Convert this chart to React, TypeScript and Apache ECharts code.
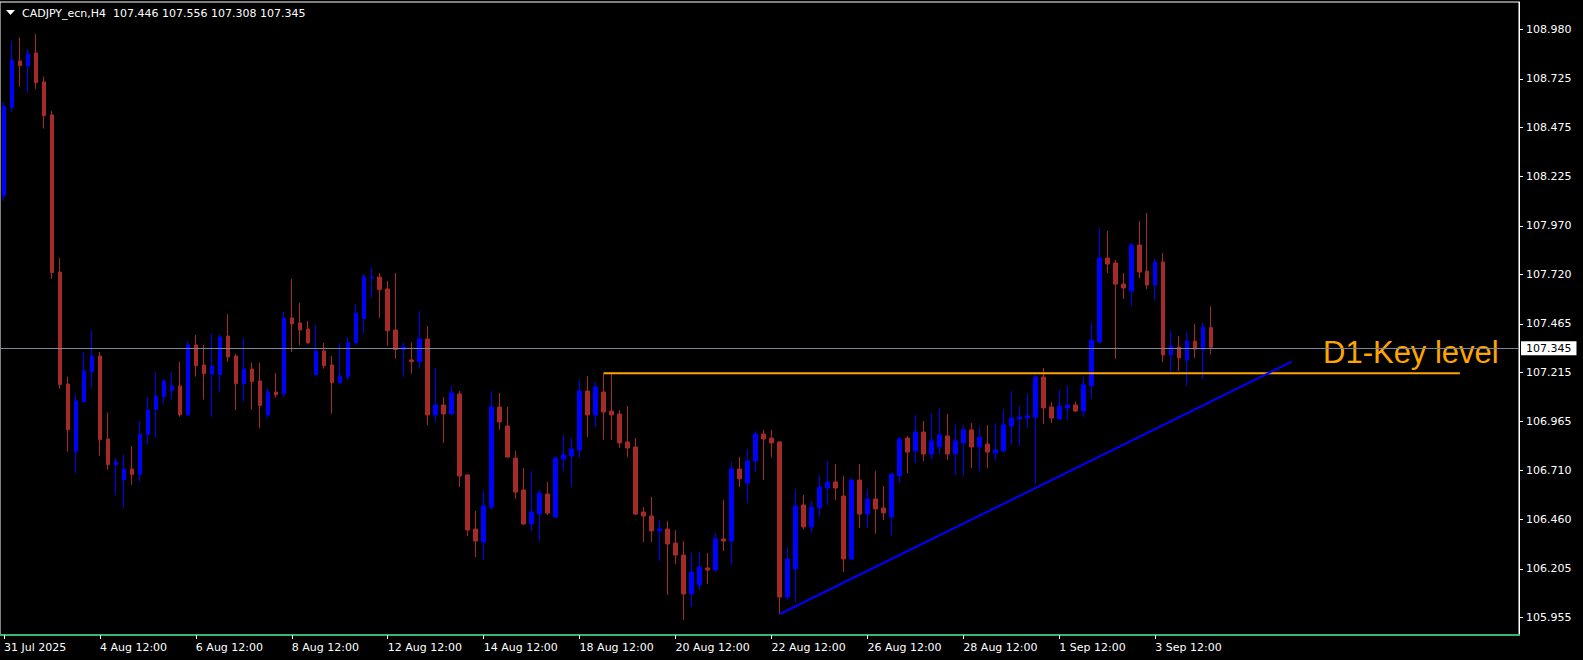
import React, { useEffect, useRef } from "react";
import * as echarts from "echarts";

const TITLE_TEXT = "CADJPY_ecn,H4  107.446 107.556 107.308 107.345";
const KEY_LEVEL_TEXT = "D1-Key level";

const opens = [
  108.125, 108.578, 108.818, 108.792, 108.859, 108.710, 108.540, 107.732, 107.156, 106.808,
  107.065, 107.219, 107.300, 106.873, 106.741, 106.664, 106.719, 106.690, 106.897, 107.024,
  107.091, 107.124, 107.146, 106.998, 107.357, 107.254, 107.207, 107.204, 107.403, 107.300,
  107.158, 107.233, 107.172, 106.997, 107.115, 107.106, 107.496, 107.470, 107.439, 107.204,
  107.326, 107.254, 107.163, 107.194, 107.369, 107.492, 107.701, 107.706, 107.645, 107.434,
  107.333, 107.280, 107.271, 107.388, 106.997, 107.048, 107.002, 107.105, 106.688, 106.410,
  106.343, 106.523, 107.038, 106.940, 106.775, 106.611, 106.436, 106.487, 106.590, 106.472,
  106.770, 106.786, 106.817, 107.120, 106.997, 107.115, 107.017, 107.002, 106.858, 106.832,
  106.498, 106.477, 106.400, 106.410, 106.338, 106.276, 106.076, 106.122, 106.210, 106.199,
  106.359, 106.348, 106.719, 106.647, 106.760, 106.899, 106.878, 106.858, 106.060, 106.205,
  106.534, 106.421, 106.518, 106.621, 106.652, 106.580, 106.256, 106.662, 106.487, 106.565,
  106.518, 106.472, 106.683, 106.878, 106.811, 106.909, 106.796, 106.832, 106.889, 106.796,
  106.853, 106.920, 106.832, 106.847, 106.801, 106.811, 106.940, 106.976, 106.981, 106.986,
  107.192, 107.038, 106.976, 107.033, 107.048, 107.017, 107.147, 107.372, 107.804, 107.779,
  107.670, 107.634, 107.871, 107.737, 107.665, 107.784, 107.305, 107.346, 107.280, 107.377,
  107.331, 107.446,
];

const highs = [
  108.605, 108.920, 108.938, 108.879, 108.956, 108.737, 108.560, 107.804, 107.194, 107.103,
  107.322, 107.434, 107.321, 107.009, 106.775, 106.793, 106.837, 106.966, 107.089, 107.219,
  107.182, 107.218, 107.271, 107.374, 107.408, 107.357, 107.413, 107.412, 107.516, 107.310,
  107.391, 107.266, 107.266, 107.136, 107.213, 107.528, 107.696, 107.573, 107.480, 107.460,
  107.367, 107.300, 107.367, 107.398, 107.566, 107.720, 107.758, 107.727, 107.686, 107.727,
  107.370, 107.370, 107.532, 107.454, 107.238, 107.089, 107.146, 107.120, 106.693, 106.503,
  106.606, 107.120, 107.110, 107.038, 106.811, 106.724, 106.709, 106.611, 106.652, 106.786,
  106.894, 106.878, 107.177, 107.197, 107.166, 107.211, 107.208, 107.022, 107.043, 106.878,
  106.523, 106.575, 106.456, 106.451, 106.405, 106.348, 106.287, 106.292, 106.287, 106.390,
  106.559, 106.755, 106.781, 106.822, 106.914, 106.920, 106.920, 106.863, 106.318, 106.616,
  106.585, 106.554, 106.688, 106.760, 106.745, 106.683, 106.673, 106.745, 106.616, 106.709,
  106.631, 106.698, 106.883, 106.889, 106.997, 106.966, 107.007, 107.033, 107.002, 106.945,
  106.945, 106.955, 106.935, 106.945, 106.955, 107.027, 107.120, 107.043, 107.105, 107.202,
  107.238, 107.064, 107.125, 107.146, 107.064, 107.192, 107.470, 107.959, 107.943, 107.794,
  107.727, 107.881, 107.995, 108.036, 107.799, 107.830, 107.429, 107.403, 107.424, 107.465,
  107.470, 107.556,
];

const lows = [
  108.099, 108.557, 108.686, 108.655, 108.674, 108.470, 107.698, 107.132, 106.808, 106.695,
  107.060, 107.137, 106.787, 106.715, 106.587, 106.518, 106.638, 106.654, 106.844, 106.880,
  107.055, 107.076, 106.988, 106.993, 107.194, 107.076, 106.988, 107.117, 107.271, 107.022,
  107.065, 107.024, 106.930, 106.981, 107.086, 107.091, 107.321, 107.357, 107.365, 107.200,
  107.235, 107.004, 107.154, 107.177, 107.358, 107.415, 107.600, 107.496, 107.353, 107.286,
  107.194, 107.209, 107.235, 106.945, 106.961, 106.853, 106.998, 106.626, 106.374, 106.266,
  106.251, 106.508, 106.920, 106.775, 106.565, 106.431, 106.400, 106.348, 106.482, 106.468,
  106.709, 106.626, 106.775, 106.883, 106.935, 106.868, 106.868, 106.827, 106.781, 106.482,
  106.343, 106.343, 106.246, 106.071, 106.230, 105.942, 106.009, 106.096, 106.127, 106.189,
  106.297, 106.225, 106.626, 106.544, 106.703, 106.662, 106.781, 105.973, 106.045, 106.035,
  106.410, 106.390, 106.472, 106.534, 106.559, 106.189, 106.250, 106.415, 106.415, 106.385,
  106.456, 106.374, 106.647, 106.698, 106.750, 106.760, 106.770, 106.796, 106.765, 106.688,
  106.683, 106.724, 106.709, 106.724, 106.765, 106.806, 106.842, 106.837, 106.930, 106.642,
  106.950, 106.955, 106.971, 106.971, 107.012, 106.986, 107.079, 107.367, 107.727, 107.285,
  107.593, 107.557, 107.701, 107.645, 107.588, 107.269, 107.218, 107.223, 107.146, 107.290,
  107.182, 107.308,
];

const closes = [
  108.583, 108.823, 108.794, 108.854, 108.706, 108.536, 107.729, 107.153, 106.921, 107.069,
  107.223, 107.300, 106.870, 106.741, 106.755, 106.719, 106.690, 106.897, 107.022, 107.094,
  107.171, 107.146, 106.998, 107.357, 107.250, 107.209, 107.249, 107.398, 107.295, 107.158,
  107.233, 107.168, 107.045, 107.115, 107.101, 107.496, 107.465, 107.434, 107.367, 107.326,
  107.250, 107.163, 107.197, 107.370, 107.521, 107.706, 107.706, 107.641, 107.430, 107.333,
  107.346, 107.271, 107.388, 106.997, 107.048, 107.002, 107.110, 106.683, 106.405, 106.348,
  106.529, 107.038, 106.961, 106.781, 106.600, 106.436, 106.498, 106.595, 106.492, 106.775,
  106.791, 106.822, 107.120, 106.997, 107.141, 107.012, 106.997, 106.853, 106.827, 106.487,
  106.477, 106.400, 106.410, 106.333, 106.276, 106.076, 106.189, 106.215, 106.199, 106.359,
  106.348, 106.719, 106.668, 106.760, 106.899, 106.873, 106.853, 106.060, 106.256, 106.529,
  106.421, 106.523, 106.626, 106.652, 106.621, 106.256, 106.662, 106.487, 106.565, 106.513,
  106.493, 106.693, 106.873, 106.806, 106.909, 106.796, 106.863, 106.894, 106.796, 106.863,
  106.920, 106.832, 106.883, 106.806, 106.817, 106.945, 106.981, 106.986, 106.992, 107.192,
  107.033, 106.981, 107.043, 107.048, 107.017, 107.151, 107.382, 107.804, 107.773, 107.670,
  107.650, 107.871, 107.732, 107.665, 107.784, 107.305, 107.352, 107.290, 107.377, 107.336,
  107.449, 107.345,
];

const TOTAL_SLOTS = 190;

const dateTicks: [number, string][] = [
  [0, "31 Jul 2025"],
  [12, "4 Aug 12:00"],
  [24, "6 Aug 12:00"],
  [36, "8 Aug 12:00"],
  [48, "12 Aug 12:00"],
  [60, "14 Aug 12:00"],
  [72, "18 Aug 12:00"],
  [84, "20 Aug 12:00"],
  [96, "22 Aug 12:00"],
  [108, "26 Aug 12:00"],
  [120, "28 Aug 12:00"],
  [132, "1 Sep 12:00"],
  [144, "3 Sep 12:00"],
];

const priceTicks = [
  108.98, 108.725, 108.475, 108.225, 107.97, 107.72, 107.465, 107.215, 106.965, 106.71,
  106.46, 106.205, 105.955,
];

const currentPrice = 107.345;
const keyLevelPrice = 107.211;
const keyLevelBars = [75, 182.1];
const trendBars = [97.06, 161.06];
const trendPrices = [105.973, 107.271];

const Y_MIN = 105.865;
const Y_MAX = 109.121;

const FONT = "DejaVu Sans";

export default function App() {
  const ref = useRef<HTMLDivElement>(null);

  useEffect(() => {
    document.body.style.margin = "0";
    document.body.style.background = "#000";
    if (!ref.current) return;
    const chart = echarts.init(ref.current, undefined, { renderer: "svg" });

    const categories = Array.from({ length: TOTAL_SLOTS }, (_, i) => String(i));
    const tickMap = new Map<number, string>(dateTicks);
    const candleData = opens.map((o, i) => [o, closes[i], lows[i], highs[i]]);

    const option: any = {
      animation: false,
      backgroundColor: "#000000",
      grid: {
        left: 0,
        top: 2,
        width: 1519,
        height: 633,
        show: true,
        borderColor: "#ffffff",
        borderWidth: 1,
        backgroundColor: "transparent",
        containLabel: false,
        outerBoundsMode: "none",
      },
      xAxis: [
        {
          type: "category",
          data: categories,
          boundaryGap: true,
          axisLine: { show: true, lineStyle: { color: "#3CB371", width: 2 } },
          axisTick: {
            show: true,
            alignWithLabel: true,
            interval: (i: number) => tickMap.has(i),
            length: 4,
            lineStyle: { color: "#ffffff", width: 1 },
          },
          axisLabel: {
            show: true,
            interval: (i: number) => tickMap.has(i),
            formatter: (_v: string, i: number) => tickMap.get(i) ?? "",
            color: "#ffffff",
            fontFamily: FONT,
            fontSize: 11,
            align: "left",
            margin: 7,
          },
          splitLine: { show: false },
        },
        {
          type: "value",
          min: -0.5,
          max: TOTAL_SLOTS - 0.5,
          show: false,
          splitLine: { show: false },
        },
      ],
      yAxis: {
        type: "value",
        position: "right",
        min: Y_MIN,
        max: Y_MAX,
        axisLine: { show: true, onZero: false, lineStyle: { color: "#ffffff", width: 1 } },
        splitLine: { show: false },
        axisTick: {
          show: true,
          inside: false,
          customValues: priceTicks,
          length: 4,
          lineStyle: { color: "#ffffff" },
        },
        axisLabel: {
          show: true,
          customValues: priceTicks,
          formatter: (v: number) => v.toFixed(3),
          color: "#ffffff",
          fontFamily: FONT,
          fontSize: 11,
          margin: 7,
        },
      },
      series: [
        {
          type: "candlestick",
          xAxisIndex: 0,
          yAxisIndex: 0,
          data: candleData,
          barWidth: 4,
          silent: true,
          itemStyle: {
            color: "#0000FF",
            color0: "#A52A2A",
            borderColor: "#0000FF",
            borderColor0: "#A52A2A",
            borderWidth: 1,
          },
          markLine: {
            silent: true,
            symbol: ["none", "none"],
            animation: false,
            data: [{ yAxis: currentPrice }],
            lineStyle: { color: "#778899", width: 1, type: "solid" },
            label: {
              show: true,
              position: "end",
              formatter: currentPrice.toFixed(3),
              backgroundColor: "#ffffff",
              color: "#000000",
              fontFamily: FONT,
              fontSize: 11,
              lineHeight: 12,
              padding: [1, 5, 1, 5],
              distance: 2,
            },
          },
        },
        {
          type: "line",
          xAxisIndex: 1,
          yAxisIndex: 0,
          silent: true,
          symbol: "none",
          data: [
            [keyLevelBars[0], keyLevelPrice],
            [keyLevelBars[1], keyLevelPrice],
          ],
          lineStyle: { color: "#FFA500", width: 2 },
        },
        {
          type: "line",
          xAxisIndex: 1,
          yAxisIndex: 0,
          silent: true,
          symbol: "none",
          data: [
            [trendBars[0], trendPrices[0]],
            [trendBars[1], trendPrices[1]],
          ],
          lineStyle: { color: "#0000FF", width: 2 },
        },
      ],
      graphic: [
        {
          type: "polygon",
          shape: { points: [[6, 10], [15, 10], [10.5, 15]] },
          style: { fill: "#ffffff" },
          silent: true,
        },
        {
          type: "text",
          x: 22,
          y: 13,
          silent: true,
          style: {
            text: TITLE_TEXT,
            fill: "#ffffff",
            font: `11px "${FONT}"`,
            verticalAlign: "middle",
            align: "left",
          },
        },
        {
          type: "text",
          x: 1323,
          y: 352,
          silent: true,
          style: {
            text: KEY_LEVEL_TEXT,
            fill: "#FFA500",
            font: `31px "Liberation Sans"`,
            verticalAlign: "middle",
            align: "left",
          },
        },
      ],
    };

    chart.setOption(option);
    return () => chart.dispose();
  }, []);

  return (
    <div
      ref={ref}
      style={{ width: 1583, height: 660, background: "#000000" }}
    />
  );
}
